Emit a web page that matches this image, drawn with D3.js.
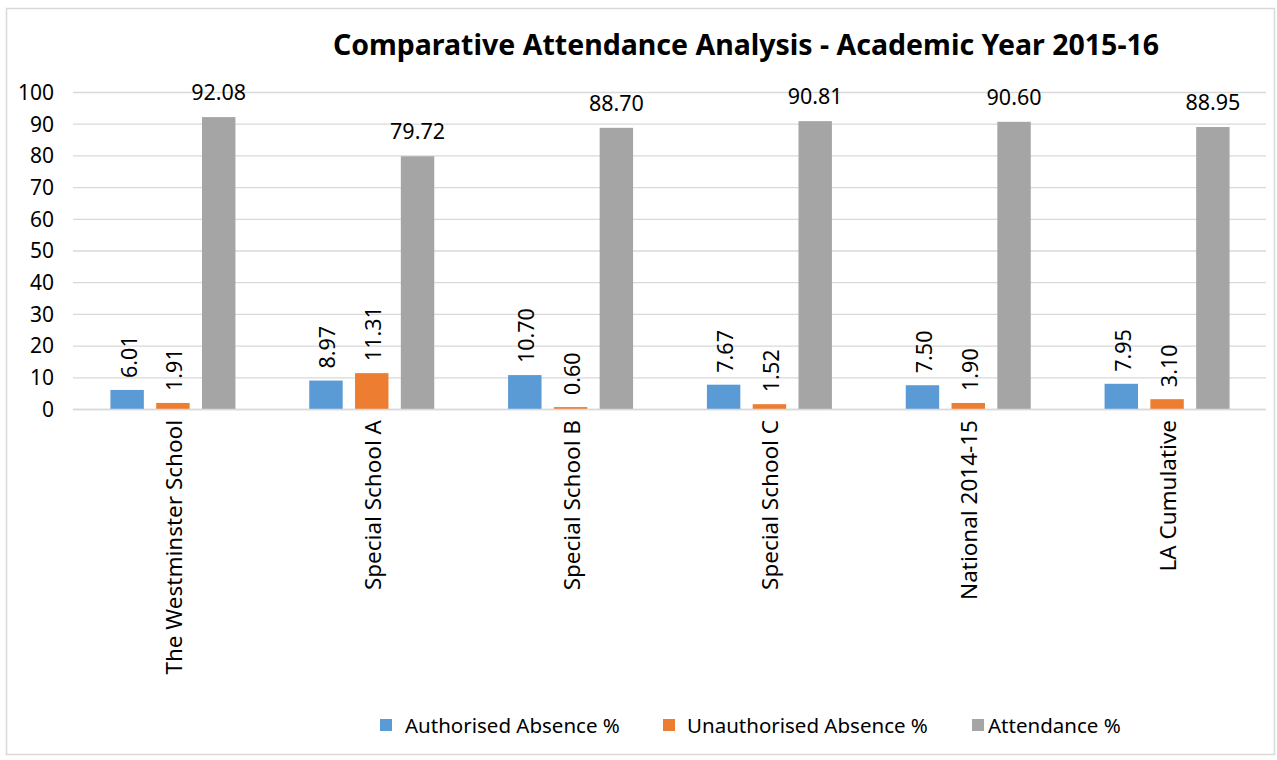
<!DOCTYPE html>
<html>
<head>
<meta charset="utf-8">
<script src="https://cdn.jsdelivr.net/npm/d3@7"></script>
<style>
  html, body { margin: 0; padding: 0; background: #fff; }
  svg text { font-family: "Noto Sans", "DejaVu Sans", sans-serif; fill: #000; }
</style>
</head>
<body>
<svg id="chart" width="1277" height="760"></svg>
<script>
const categories = ["The Westminster School", "Special School A", "Special School B", "Special School C", "National 2014-15", "LA Cumulative"];
const seriesNames = ["Authorised Absence %", "Unauthorised Absence %", "Attendance %"];
const authorised = [6.01, 8.97, 10.70, 7.67, 7.50, 7.95];
const unauthorised = [1.91, 11.31, 0.60, 1.52, 1.90, 3.10];
const attendance = [92.08, 79.72, 88.70, 90.81, 90.60, 88.95];
const yTicks = [0, 10, 20, 30, 40, 50, 60, 70, 80, 90, 100];
const colors = ["#5b9bd5", "#ed7d31", "#a5a5a5"];
const titleText = "Comparative Attendance Analysis - Academic Year 2015-16";

const seriesValues = [authorised, unauthorised, attendance];

const svg = d3.select("#chart");
const plot = { left: 73, right: 1266, top: 92, bottom: 409 };

// outer border
svg.append("rect").attr("x", 6.5).attr("y", 8.5).attr("width", 1268).attr("height", 746)
  .attr("fill", "#fff").attr("stroke", "#d9d9d9").attr("stroke-width", 1.5);

const x0 = d3.scaleBand().domain(categories).range([plot.left, plot.right]).paddingInner(0).paddingOuter(0);
const x1 = d3.scaleBand().domain(seriesNames).range([-62, 63]).paddingInner(0.27).paddingOuter(0);
const y = d3.scaleLinear().domain([0, 100]).range([plot.bottom, plot.top]);

// title
svg.append("text").attr("x", 746).attr("y", 55).attr("text-anchor", "middle")
  .style("font-size", "28.5px").style("font-weight", "bold").text(titleText);

// gridlines
svg.append("g").selectAll("line").data(yTicks).join("line")
  .attr("x1", plot.left).attr("x2", plot.right)
  .attr("y1", d => y(d) + 0.5).attr("y2", d => y(d) + 0.5)
  .attr("stroke", "#d9d9d9").attr("stroke-width", 1.3);

// y axis labels
const yAxis = d3.axisLeft(y).tickValues(yTicks).tickSize(0).tickPadding(0);
const gy = svg.append("g").attr("transform", `translate(54,0)`).call(yAxis);
gy.select(".domain").remove();
gy.selectAll("text").style("font-size", "21px").style("font-family", "\"Noto Sans\", sans-serif").attr("fill", "#000").attr("dy", "0.35em");

// bars
const groups = svg.append("g").selectAll("g").data(categories).join("g")
  .attr("transform", d => `translate(${x0(d) + x0.bandwidth() / 2},0)`);

groups.each(function(cat, ci) {
  const g = d3.select(this);
  seriesNames.forEach((s, si) => {
    const v = seriesValues[si][ci];
    const bx = x1(s);
    g.append("rect").attr("x", bx).attr("width", x1.bandwidth())
      .attr("y", y(v)).attr("height", y(0) - y(v)).attr("fill", colors[si]);
    const cx = bx + x1.bandwidth() / 2;
    if (si < 2) {
      g.append("text")
        .attr("transform", `translate(${cx + 1},${y(v) - 12}) rotate(-90)`)
        .attr("dominant-baseline", "central")
        .attr("text-anchor", "start")
        .style("font-size", "21.5px").text(v.toFixed(2));
    } else {
      g.append("text").attr("x", cx).attr("y", y(v) - 17)
        .attr("text-anchor", "middle")
        .style("font-size", "21.5px").text(v.toFixed(2));
    }
  });
});

// x axis line
svg.append("line").attr("x1", plot.left).attr("x2", plot.right)
  .attr("y1", plot.bottom + 0.5).attr("y2", plot.bottom + 0.5)
  .attr("stroke", "#d9d9d9").attr("stroke-width", 1.5);

// category labels
svg.append("g").selectAll("text").data(categories).join("text")
  .attr("transform", d => `translate(${x0(d) + x0.bandwidth() / 2 + 1},${plot.bottom + 11}) rotate(-90)`)
  .attr("text-anchor", "end").attr("dominant-baseline", "central")
  .style("font-size", "22.5px").text(d => d);

// legend
const legendX = [380, 663, 972];
const legendTextOffset = [25, 24, 16];
const legend = svg.append("g").selectAll("g").data(seriesNames).join("g")
  .attr("transform", (d, i) => `translate(${legendX[i]},725)`);
legend.append("rect").attr("x", 0).attr("y", -6).attr("width", 12).attr("height", 12)
  .attr("fill", (d, i) => colors[i]);
legend.append("text").attr("x", (d, i) => legendTextOffset[i]).attr("y", 0).attr("dominant-baseline", "central")
  .style("font-size", "20.5px").text(d => d);
</script>
</body>
</html>
